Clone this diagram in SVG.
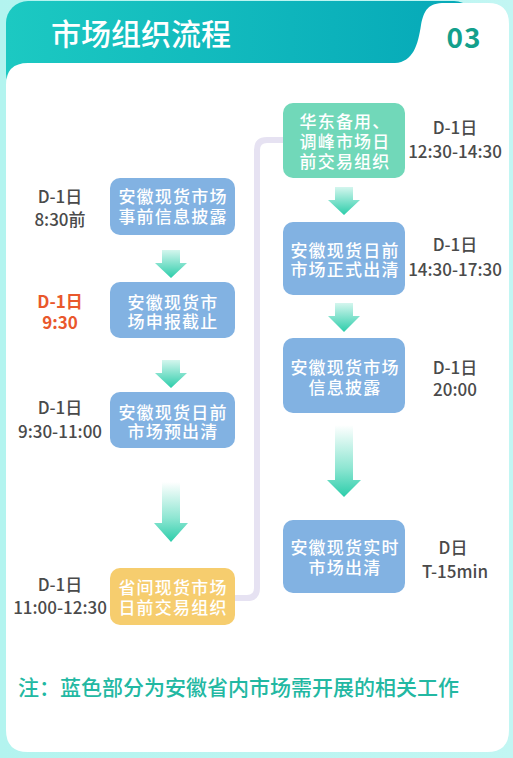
<svg xmlns="http://www.w3.org/2000/svg" width="513" height="758" viewBox="0 0 513 758">
<defs>
<linearGradient id="bg" x1="0" y1="0" x2="1" y2="0"><stop offset="0" stop-color="#b3f4ef"/><stop offset="1" stop-color="#c2f6f3"/></linearGradient>
<linearGradient id="hd" x1="0" y1="0" x2="1" y2="0"><stop offset="0" stop-color="#1cc9c2"/><stop offset="1" stop-color="#05a8b8"/></linearGradient>
<linearGradient id="arr" x1="0" y1="0" x2="0" y2="1"><stop offset="0" stop-color="#d4f6ee"/><stop offset="1" stop-color="#2ccdaa"/></linearGradient>
<linearGradient id="arrL" x1="0" y1="0" x2="0" y2="1"><stop offset="0" stop-color="#ffffff"/><stop offset="0.6" stop-color="#8ee6d2"/><stop offset="1" stop-color="#2ccdaa"/></linearGradient>
<style>
.cjk{font-family:"Noto Sans CJK SC","Noto Sans",sans-serif}
.bt{font-size:17px;fill:#ffffff;text-anchor:middle;font-weight:500;letter-spacing:1.2px}
.lb{font-size:17px;fill:#4a4a4a;text-anchor:middle;font-weight:500}
.red{fill:#e9582c;font-weight:700}
.blue{fill:#82b2e2}
.green{fill:#71d8b9}
.yellow{fill:#f6cd6e}
.conn{fill:none;stroke:#e6e2f2;stroke-width:6;stroke-linejoin:round}
</style>
</defs>
<rect x="0" y="0" width="513" height="758" fill="url(#bg)"/>
<g id="header">
<rect x="6" y="1" width="470" height="95" rx="22" fill="url(#hd)"/>
<path d="M6,85 Q6,63 28,63 L395,63 C413,62 418,45 421,25 C424,10 428,3 445,3 L488,3 Q509,3 509,24 L509,730 Q509,752 487,752 L28,752 Q6,752 6,730 Z" fill="#ffffff"/>
<text x="51" y="45" class="cjk" font-size="30" fill="#ffffff" font-weight="500">市场组织流程</text>
<text x="464" y="48" class="cjk" font-size="28" fill="#13a08c" font-weight="700" text-anchor="middle" letter-spacing="1">03</text>
</g>
<g id="connectors">
<path class="conn" d="M235,598 L247,598 Q257,598 257,588 L257,150 Q257,140 267,140 L283,140"/>
<g fill="url(#arr)">
<path d="M162,250 H180 V263 H187 L171,278 L155,263 H162 Z"/>
<path d="M162,360 H180 V373 H187 L171,388 L155,373 H162 Z"/>
<path fill="url(#arrL)" d="M162,482 H180 V523 H188 L171,542 L154,523 H162 Z"/>
<path d="M335,187 H353 V200 H360 L344,215 L328,200 H335 Z"/>
<path d="M335,303 H353 V316 H360 L344,332 L328,316 H335 Z"/>
<path fill="url(#arrL)" d="M335,425 H353 V480 H361 L344,497 L327,480 H335 Z"/>
</g>
</g>
<g id="n1"><rect x="110" y="178" width="125" height="57" rx="10" class="blue"/><text class="cjk bt" x="173" y="203">安徽现货市场</text><text class="cjk bt" x="173" y="223">事前信息披露</text></g>
<g id="n2"><rect x="110" y="282" width="125" height="56" rx="10" class="blue"/><text class="cjk bt" x="173" y="309">安徽现货市</text><text class="cjk bt" x="173" y="328">场申报截止</text></g>
<g id="n3"><rect x="110" y="392" width="125" height="56" rx="10" class="blue"/><text class="cjk bt" x="173" y="419">安徽现货日前</text><text class="cjk bt" x="173" y="438">市场预出清</text></g>
<g id="n4"><rect x="110" y="568" width="125" height="57" rx="10" class="yellow"/><text class="cjk bt" x="173" y="594">省间现货市场</text><text class="cjk bt" x="173" y="614">日前交易组织</text></g>
<g id="r1"><rect x="283" y="103" width="122" height="75" rx="10" class="green"/><text class="cjk bt" x="345" y="128">华东备用、</text><text class="cjk bt" x="345" y="148">调峰市场日</text><text class="cjk bt" x="345" y="168">前交易组织</text></g>
<g id="r2"><rect x="283" y="222" width="122" height="73" rx="10" class="blue"/><text class="cjk bt" x="345" y="257">安徽现货日前</text><text class="cjk bt" x="345" y="276">市场正式出清</text></g>
<g id="r3"><rect x="283" y="338" width="122" height="75" rx="10" class="blue"/><text class="cjk bt" x="345" y="374">安徽现货市场</text><text class="cjk bt" x="345" y="394">信息披露</text></g>
<g id="r4"><rect x="283" y="520" width="122" height="73" rx="10" class="blue"/><text class="cjk bt" x="345" y="554">安徽现货实时</text><text class="cjk bt" x="345" y="574">市场出清</text></g>
<g id="labels">
<text class="cjk lb" x="60" y="203">D-1日</text><text class="cjk lb" x="60" y="226">8:30前</text>
<text class="cjk lb red" x="60" y="308">D-1日</text><text class="cjk lb red" x="60" y="329">9:30</text>
<text class="cjk lb" x="60" y="414">D-1日</text><text class="cjk lb" x="60" y="438">9:30-11:00</text>
<text class="cjk lb" x="60" y="591">D-1日</text><text class="cjk lb" x="60" y="614">11:00-12:30</text>
<text class="cjk lb" x="455" y="134">D-1日</text><text class="cjk lb" x="455" y="158">12:30-14:30</text>
<text class="cjk lb" x="455" y="251">D-1日</text><text class="cjk lb" x="455" y="276">14:30-17:30</text>
<text class="cjk lb" x="455" y="374">D-1日</text><text class="cjk lb" x="455" y="396">20:00</text>
<text class="cjk lb" x="453" y="554">D日</text><text class="cjk lb" x="455" y="578">T-15min</text>
</g>
<text x="18" y="695" class="cjk" font-size="21" fill="#22b8a2" font-weight="500">注：蓝色部分为安徽省内市场需开展的相关工作</text>
</svg>
